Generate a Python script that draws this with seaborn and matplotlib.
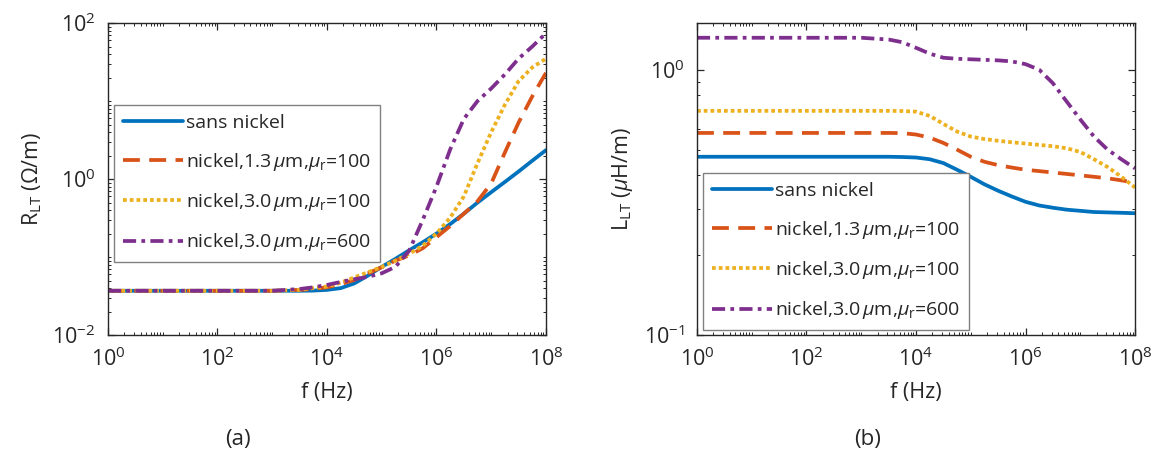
import numpy as np
import pandas as pd
import seaborn as sns
import matplotlib.pyplot as plt
from matplotlib.ticker import LogLocator, LogFormatterSciNotation, NullFormatter

sns.set_theme(style="ticks")
plt.rcParams['font.family'] = ['Open Sans', 'DejaVu Sans']
plt.rcParams['mathtext.fontset'] = 'custom'
plt.rcParams['mathtext.rm'] = 'Open Sans'
plt.rcParams['mathtext.it'] = 'Open Sans:italic'
plt.rcParams['mathtext.bf'] = 'Open Sans:bold'

# frequency grid (Hz)
freq = [1e0, 1e1, 1e2, 1e3, 3.16e3, 5.62e3, 1e4, 1.78e4, 3.16e4, 5.62e4,
        1e5, 1.78e5, 3.16e5, 5.62e5, 1e6, 1.78e6, 3.16e6, 5.62e6,
        1e7, 1.78e7, 3.16e7, 5.62e7, 1e8]

labels = ["sans nickel",
          r"nickel,1.3$\,\mu$m,$\mu_\mathrm{r}$=100",
          r"nickel,3.0$\,\mu$m,$\mu_\mathrm{r}$=100",
          r"nickel,3.0$\,\mu$m,$\mu_\mathrm{r}$=600"]

# (a) resistance per unit length (Ohm/m)
r_sans = [0.037, 0.037, 0.037, 0.037, 0.037, 0.0372, 0.038, 0.040, 0.046, 0.058,
          0.075, 0.095, 0.122, 0.155, 0.20, 0.265, 0.36, 0.50, 0.68, 0.92, 1.25, 1.72, 2.35]
r_ni13_100 = [0.037, 0.037, 0.037, 0.037, 0.038, 0.039, 0.041, 0.045, 0.051, 0.062,
              0.074, 0.09, 0.105, 0.13, 0.18, 0.25, 0.36, 0.52, 0.88, 2.2, 5.3, 11.5, 23]
r_ni30_100 = [0.037, 0.037, 0.037, 0.037, 0.038, 0.040, 0.042, 0.047, 0.055, 0.064,
              0.075, 0.09, 0.11, 0.14, 0.20, 0.32, 0.6, 1.6, 4.0, 9.0, 18, 27, 35]
r_ni30_600 = [0.037, 0.037, 0.037, 0.037, 0.039, 0.041, 0.044, 0.048, 0.052, 0.056,
              0.062, 0.075, 0.12, 0.3, 0.8, 2.4, 5.9, 10, 14.5, 22, 35, 50, 74]

# (b) inductance per unit length (uH/m)
l_sans = [0.47, 0.47, 0.47, 0.47, 0.47, 0.469, 0.467, 0.46, 0.445, 0.42,
          0.395, 0.37, 0.35, 0.333, 0.318, 0.308, 0.302, 0.297, 0.294, 0.291, 0.29, 0.289, 0.288]
l_ni13_100 = [0.578, 0.578, 0.578, 0.578, 0.578, 0.577, 0.57, 0.555, 0.53, 0.50,
              0.47, 0.45, 0.437, 0.428, 0.42, 0.415, 0.41, 0.405, 0.40, 0.395, 0.39, 0.383, 0.375]
l_ni30_100 = [0.70, 0.70, 0.70, 0.70, 0.70, 0.699, 0.695, 0.67, 0.625, 0.585,
              0.56, 0.548, 0.54, 0.533, 0.527, 0.521, 0.515, 0.506, 0.49, 0.46, 0.43, 0.395, 0.36]
l_ni30_600 = [1.32, 1.32, 1.32, 1.32, 1.30, 1.27, 1.21, 1.15, 1.11, 1.10,
              1.095, 1.09, 1.085, 1.075, 1.05, 1.0, 0.89, 0.76, 0.65, 0.56, 0.5, 0.46, 0.425]

colors = ["#0072BD", "#D95319", "#EDB120", "#7E2F8E"]
dashes = ["", (4.5, 2.5), (1, 0.8), (3.5, 1.4, 1, 1.4)]


def long_form(series):
    frames = []
    for lab, vals in zip(labels, series):
        frames.append(pd.DataFrame({"f": freq, "v": vals, "label": lab}))
    return pd.concat(frames, ignore_index=True)


def draw(ax, series, ylim, yticks, ylabel, legend_anchor, legend_loc):
    df = long_form(series)
    sns.lineplot(data=df, x="f", y="v", hue="label", style="label",
                 hue_order=labels, style_order=labels,
                 palette=dict(zip(labels, colors)),
                 dashes=dict(zip(labels, dashes)),
                 linewidth=2.7, legend=False, ax=ax)
    ax.set_xscale("log")
    ax.set_yscale("log")
    ax.set_xlim(1, 1e8)
    ax.set_ylim(*ylim)
    ax.set_xticks([1, 1e2, 1e4, 1e6, 1e8])
    ax.xaxis.set_minor_locator(LogLocator(base=10, subs=np.arange(1, 10), numticks=100))
    ax.set_yticks(yticks)
    ax.yaxis.set_minor_locator(LogLocator(base=10, subs=np.arange(1, 10), numticks=100))
    ax.xaxis.set_major_formatter(LogFormatterSciNotation())
    ax.yaxis.set_major_formatter(LogFormatterSciNotation())
    ax.xaxis.set_minor_formatter(NullFormatter())
    ax.yaxis.set_minor_formatter(NullFormatter())
    ax.tick_params(which="both", direction="in", top=True, right=True,
                   color="#262626", labelsize=15.5, labelcolor="#262626")
    ax.tick_params(which="major", length=5, width=0.9, pad=9)
    ax.tick_params(which="minor", length=2.5, width=0.7)
    for s in ax.spines.values():
        s.set_color("#262626")
        s.set_linewidth(1.0)
    ax.set_xlabel("f (Hz)", fontsize=15.5, color="#262626", labelpad=8)
    ax.set_ylabel(ylabel, fontsize=15.5, color="#262626", labelpad=6)
    leg = ax.legend(ax.lines[:4], labels, loc=legend_loc, bbox_to_anchor=legend_anchor,
                    fontsize=14, handlelength=3.1, labelspacing=0.95,
                    borderpad=0.45, handletextpad=0.15, borderaxespad=0.3,
                    fancybox=False, framealpha=1, edgecolor="#808080")
    leg.get_frame().set_linewidth(1.0)


fig = plt.figure(figsize=(11.57, 4.70), dpi=100)
ax1 = fig.add_axes([0.0933, 0.287, 0.3786, 0.664])
ax2 = fig.add_axes([0.6024, 0.287, 0.3786, 0.664])

draw(ax1, [r_sans, r_ni13_100, r_ni30_100, r_ni30_600], (1e-2, 1e2), [1e-2, 1, 1e2],
     r"R$_\mathrm{LT}$ ($\Omega$/m)", (0.0, 0.755), "upper left")
draw(ax2, [l_sans, l_ni13_100, l_ni30_100, l_ni30_600], (0.1, 1.5), [0.1, 1],
     r"L$_\mathrm{LT}$ ($\mu$H/m)", (0.0, -0.003), "lower left")

fig.text(238 / 1157, 1 - 440 / 470, "(a)", fontsize=16, ha="center", va="center", color="#262626")
fig.text(868 / 1157, 1 - 440 / 470, "(b)", fontsize=16, ha="center", va="center", color="#262626")

fig.savefig("out.png", dpi=100)
